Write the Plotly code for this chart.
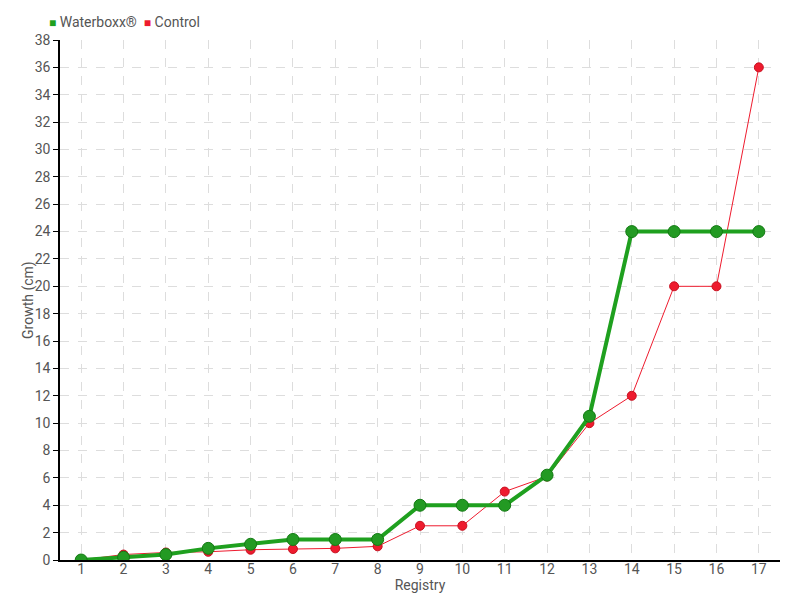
import plotly.graph_objects as go

registry = [str(i) for i in range(1, 18)]
waterboxx = [0, 0.2, 0.4, 0.85, 1.15, 1.5, 1.5, 1.5, 4, 4, 4, 6.2, 10.5, 24, 24, 24, 24]
control = [0, 0.4, 0.55, 0.6, 0.75, 0.8, 0.85, 1.0, 2.5, 2.5, 5, 6.1, 10, 12, 20, 20, 36]
series_names = ["Waterboxx®", "Control"]
y_ticks = list(range(0, 39, 2))

GREEN = "#1fa01f"
RED = "#ee1b2e"
FONT = "Roboto, sans-serif"
TXT = "#555555"

fig = go.Figure()
fig.add_trace(go.Scatter(
    x=registry, y=control, mode="lines+markers", name=series_names[1], showlegend=False,
    line=dict(color=RED, width=1),
    marker=dict(color=RED, size=9, line=dict(color="#c81020", width=1)),
))
fig.add_trace(go.Scatter(
    x=registry, y=waterboxx, mode="lines+markers", name=series_names[0], showlegend=False,
    line=dict(color=GREEN, width=4),
    marker=dict(color="#239a23", size=12, line=dict(color="#127a12", width=1)),
))

legend_text = (
    f"<span style='color:{GREEN};font-size:12px'>■</span> {series_names[0]}  "
    f"<span style='color:{RED};font-size:12px'>■</span> {series_names[1]}"
)
fig.add_annotation(
    text=legend_text, xref="paper", yref="paper", x=0, y=1.0,
    xanchor="left", yanchor="bottom", xshift=-13, yshift=8, showarrow=False,
    font=dict(family=FONT, size=14, color=TXT),
)
fig.add_annotation(
    text="Growth (cm)", xref="paper", yref="paper", x=0, y=0.5,
    xanchor="center", yanchor="middle", xshift=-32, textangle=-90, showarrow=False,
    font=dict(family=FONT, size=14, color=TXT),
)

fig.update_layout(
    width=800, height=600,
    margin=dict(l=52, r=28, t=32, b=48),
    paper_bgcolor="white", plot_bgcolor="white",
    font=dict(family=FONT, size=14, color=TXT),
    showlegend=False,
    xaxis=dict(
        type="category", range=[-0.5, 16.5], automargin=False,
        showgrid=True, gridcolor="#dddddd", griddash="dash", gridwidth=1,
        showline=True, linecolor="black", linewidth=1.5,
        ticks="", ticklabelstandoff=-5, tickfont=dict(size=14, color=TXT),
        title=dict(text="Registry", standoff=0, font=dict(size=14, color=TXT)),
        zeroline=False,
    ),
    yaxis=dict(
        range=[0, 38], tickvals=y_ticks, automargin=False,
        showgrid=True, gridcolor="#dddddd", griddash="dash", gridwidth=1,
        showline=True, linecolor="black", linewidth=1.5,
        ticks="outside", ticklen=5, tickcolor="black",
        tickfont=dict(size=14, color=TXT),
        zeroline=False,
    ),
)

fig.write_html("out.html")
